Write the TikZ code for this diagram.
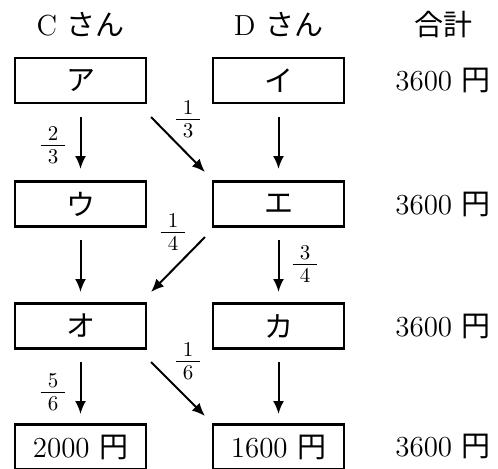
\documentclass[tikz,border=0pt]{standalone}
\usepackage{fontspec}
\newfontfamily\jp{Noto Sans CJK JP}
\usetikzlibrary{arrows.meta}
\newcommand\myfrac[2]{{\def\arraystretch{0}\begin{tabular}{@{\hspace{3.6pt}}c@{\hspace{3.6pt}}}\rule[-2.4pt]{0pt}{9pt}#1\\\hline\rule[-1pt]{0pt}{9.8pt}#2\end{tabular}}}
\begin{document}
\begin{tikzpicture}[x=0.5pt,y=-0.5pt,
  cell/.style={draw,line width=1.3pt,minimum width=65.5pt,minimum height=22.5pt,inner sep=0pt,font=\fontsize{14.5}{17}\selectfont},
  txt/.style={inner sep=0pt,font=\fontsize{14.5}{17}\selectfont},
  flow/.style={line width=1pt,-{Latex[length=6.5pt,width=5.5pt]}},
  frac/.style={inner sep=0pt,font=\fontsize{10.5}{12}\selectfont}]
\useasboundingbox (0,0) rectangle (498,468);
\node[txt] (hc) at (80.5,25) {C {\jp さん}};
\node[txt] (hd) at (278.5,25) {D {\jp さん}};
\node[txt] (ht) at (443,25) {\jp 合計};
\node[cell] (a) at (80.5,80.5) {\jp ア};
\node[cell] (i) at (278.5,80.5) {\jp イ};
\node[cell] (u) at (80.5,204) {\jp ウ};
\node[cell] (e) at (278.5,204) {\jp エ};
\node[cell] (o) at (80.5,326) {\jp オ};
\node[cell] (k) at (278.5,326) {\jp カ};
\node[cell] (l) at (80.5,447) {2000 {\jp 円}};
\node[cell] (r) at (278.5,447) {1600 {\jp 円}};
\node[txt] (t1) at (443,80.5) {3600 {\jp 円}};
\node[txt] (t2) at (443,204) {3600 {\jp 円}};
\node[txt] (t3) at (443,326) {3600 {\jp 円}};
\node[txt] (t4) at (443,446) {3600 {\jp 円}};
% connector anchors
\coordinate (a1) at (80.5,117); \coordinate (u1) at (80.5,169);
\coordinate (i1) at (278.5,117); \coordinate (e1) at (278.5,169);
\coordinate (a2) at (151,117); \coordinate (e2) at (205,172);
\coordinate (u2) at (80.5,240); \coordinate (o2) at (80.5,292);
\coordinate (e3) at (205,237); \coordinate (o3) at (151,292);
\coordinate (e4) at (278.5,240); \coordinate (k4) at (278.5,292);
\coordinate (o5) at (80.5,362); \coordinate (l5) at (80.5,414);
\coordinate (o6) at (151,362); \coordinate (r6) at (205,416);
\coordinate (k7) at (278.5,362); \coordinate (r7) at (278.5,414);
\draw[flow] (a1) -- (u1);
\draw[flow] (i1) -- (e1);
\draw[flow] (a2) -- (e2);
\draw[flow] (u2) -- (o2);
\draw[flow] (e3) -- (o3);
\draw[flow] (e4) -- (k4);
\draw[flow] (o5) -- (l5);
\draw[flow] (o6) -- (r6);
\draw[flow] (k7) -- (r7);
\node[frac] (f1) at (53,146) {\myfrac{2}{3}};
\node[frac] (f2) at (188,120) {\myfrac{1}{3}};
\node[frac] (f3) at (173,233) {\myfrac{1}{4}};
\node[frac] (f4) at (305,265) {\myfrac{3}{4}};
\node[frac] (f5) at (188,362) {\myfrac{1}{6}};
\node[frac] (f6) at (53,393) {\myfrac{5}{6}};
\end{tikzpicture}
\end{document}
